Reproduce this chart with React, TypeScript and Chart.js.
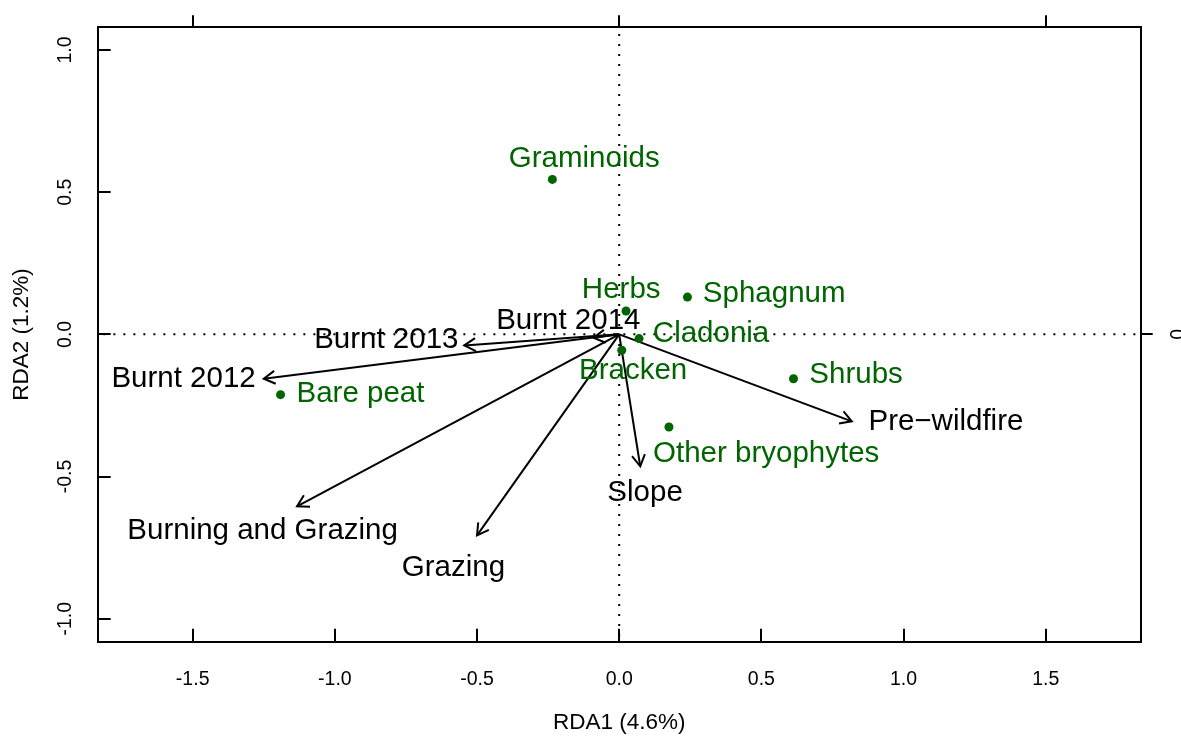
import React, { useEffect, useRef } from "react";
import { Chart, registerables } from "chart.js";

Chart.register(...registerables);

// ---- data ----
const xTicks = [-1.5, -1.0, -0.5, 0.0, 0.5, 1.0, 1.5];
const yTicks = [-1.0, -0.5, 0.0, 0.5, 1.0];
const topTicks = [-1.5, 0.0, 1.5];
const rightTicks = [0];
const xLimits = [-1.834, 1.834];
const yLimits = [-1.081, 1.08];
const xTitle = "RDA1 (4.6%)";
const yTitle = "RDA2 (1.2%)";

const speciesNames = ["Graminoids", "Herbs", "Sphagnum", "Cladonia", "Bracken", "Shrubs", "Other bryophytes", "Bare peat"];
const speciesX = [-0.235, 0.024, 0.24, 0.07, 0.009, 0.613, 0.175, -1.191];
const speciesY = [0.545, 0.082, 0.131, -0.015, -0.056, -0.156, -0.326, -0.212];
const speciesLabelX = [-0.123, 0.007, 0.545, 0.323, 0.049, 0.833, 0.517, -0.91];
const speciesLabelY = [0.619, 0.155, 0.144, 0.0, -0.127, -0.144, -0.419, -0.211];

const envNames = ["Burnt 2012", "Burnt 2013", "Burnt 2014", "Burning and Grazing", "Grazing", "Slope", "Pre\u2212wildfire"];
const envX = [-1.25, -0.545, -0.09, -1.133, -0.5, 0.074, 0.818];
const envY = [-0.156, -0.039, -0.012, -0.605, -0.707, -0.464, -0.306];
const envLabelX = [-1.532, -0.819, -0.179, -1.254, -0.583, 0.091, 1.149];
const envLabelY = [-0.155, -0.021, 0.049, -0.69, -0.821, -0.559, -0.308];

// ---- layout / style ----
const W = 1181;
const H = 736;
const PLOT_LEFT = 97.7;
const PLOT_RIGHT = 1140.7;
const PLOT_TOP = 27.3;
const PLOT_BOTTOM = 641.7;
const FONT = "'Liberation Sans', Arial, Helvetica, sans-serif";
const GREEN = "#006400";

const fmtTick = (v: number) => (v < 0 ? "-" : "") + Math.abs(v).toFixed(1);

const overlayPlugin = {
  id: "biplotOverlay",
  afterDatasetsDraw(chart: any) {
    const { ctx } = chart;
    const xs = chart.scales.x;
    const ys = chart.scales.y;
    ctx.save();
    // arrow heads
    ctx.strokeStyle = "#000";
    ctx.lineWidth = 2;
    ctx.lineCap = "butt";
    ctx.lineJoin = "miter";
    const x0 = xs.getPixelForValue(0);
    const y0 = ys.getPixelForValue(0);
    envX.forEach((vx, i) => {
      const x1 = xs.getPixelForValue(vx);
      const y1 = ys.getPixelForValue(envY[i]);
      const ang = Math.atan2(y1 - y0, x1 - x0);
      const L = 13;
      const a = Math.PI / 6;
      ctx.beginPath();
      ctx.moveTo(x1 - L * Math.cos(ang - a), y1 - L * Math.sin(ang - a));
      ctx.lineTo(x1, y1);
      ctx.lineTo(x1 - L * Math.cos(ang + a), y1 - L * Math.sin(ang + a));
      ctx.stroke();
    });
    // labels
    ctx.font = `29.5px ${FONT}`;
    ctx.textAlign = "center";
    ctx.textBaseline = "middle";
    ctx.fillStyle = GREEN;
    speciesNames.forEach((n, i) => {
      ctx.fillText(n, xs.getPixelForValue(speciesLabelX[i]), ys.getPixelForValue(speciesLabelY[i]));
    });
    ctx.fillStyle = "#000";
    envNames.forEach((n, i) => {
      ctx.fillText(n, xs.getPixelForValue(envLabelX[i]), ys.getPixelForValue(envLabelY[i]));
    });
    ctx.restore();
  },
};

export default function App() {
  const ref = useRef<HTMLCanvasElement | null>(null);

  useEffect(() => {
    if (!ref.current) return;
    const dotted = {
      borderColor: "#000",
      borderWidth: 2,
      borderDash: [2, 8],
      pointRadius: 0,
      showLine: true,
      fill: false,
    };
    const datasets: any[] = [
      { ...dotted, data: [{ x: xLimits[0] - 1, y: 0 }, { x: xLimits[1] + 1, y: 0 }] },
      { ...dotted, data: [{ x: 0, y: yLimits[0] - 1 }, { x: 0, y: yLimits[1] + 1 }] },
      {
        data: speciesX.map((v, i) => ({ x: v, y: speciesY[i] })),
        pointRadius: 4.5,
        pointBackgroundColor: GREEN,
        pointBorderWidth: 0,
        borderColor: GREEN,
        showLine: false,
      },
      ...envX.map((v, i) => ({
        data: [{ x: 0, y: 0 }, { x: v, y: envY[i] }],
        borderColor: "#000",
        borderWidth: 2,
        pointRadius: 0,
        showLine: true,
        fill: false,
      })),
    ];

    const tickFont = { family: FONT, size: 19.5 };
    const titleFont = { family: FONT, size: 22.5 };
    const noPad = (s: any) => {
      s.paddingTop = 0;
      s.paddingBottom = 0;
      s.paddingLeft = 0;
      s.paddingRight = 0;
    };

    const chart = new Chart(ref.current, {
      type: "scatter",
      data: { datasets },
      plugins: [overlayPlugin],
      options: {
        animation: false,
        responsive: false,
        maintainAspectRatio: false,
        devicePixelRatio: 1,
        layout: { padding: 0 },
        plugins: { legend: { display: false }, tooltip: { enabled: false } },
        events: [],
        scales: {
          x: {
            type: "linear",
            position: "bottom",
            min: xLimits[0],
            max: xLimits[1],
            afterBuildTicks: (s: any) => { s.ticks = xTicks.map((v) => ({ value: v })); },
            afterFit: (s: any) => { s.height = H - PLOT_BOTTOM; noPad(s); },
            ticks: { font: tickFont, color: "#000", padding: 39, autoSkip: false, maxRotation: 0, minRotation: 0, callback: (v: any) => fmtTick(Number(v)) },
            grid: { drawOnChartArea: false, drawTicks: true, tickLength: -13, color: "#000", lineWidth: 2 },
            border: { display: true, color: "#000", width: 2 },
            title: { display: true, text: xTitle, font: titleFont, color: "#000", padding: { top: 0, bottom: 0 } },
          },
          x2: {
            type: "linear",
            axis: "x",
            position: "top",
            min: xLimits[0],
            max: xLimits[1],
            afterBuildTicks: (s: any) => { s.ticks = topTicks.map((v) => ({ value: v })); },
            afterFit: (s: any) => { s.height = PLOT_TOP; noPad(s); },
            ticks: { display: false },
            grid: { drawOnChartArea: false, drawTicks: true, tickLength: 12, color: "#000", lineWidth: 2 },
            border: { display: true, color: "#000", width: 2 },
          },
          y: {
            type: "linear",
            position: "left",
            min: yLimits[0],
            max: yLimits[1],
            afterBuildTicks: (s: any) => { s.ticks = yTicks.map((v) => ({ value: v })); },
            afterFit: (s: any) => { s.width = PLOT_LEFT; noPad(s); },
            ticks: { font: tickFont, color: "#000", padding: 28, autoSkip: false, minRotation: 90, maxRotation: 90, crossAlign: "center", callback: (v: any) => fmtTick(Number(v)) },
            grid: { drawOnChartArea: false, drawTicks: true, tickLength: -13, color: "#000", lineWidth: 2 },
            border: { display: true, color: "#000", width: 2 },
            title: { display: true, text: yTitle, font: titleFont, color: "#000", padding: { top: 8, bottom: 0 } },
          },
          y2: {
            type: "linear",
            axis: "y",
            position: "right",
            min: yLimits[0],
            max: yLimits[1],
            afterBuildTicks: (s: any) => { s.ticks = rightTicks.map((v) => ({ value: v })); },
            afterFit: (s: any) => { s.width = W - PLOT_RIGHT; noPad(s); },
            ticks: { font: tickFont, color: "#000", padding: 21, autoSkip: false, minRotation: 90, maxRotation: 90, crossAlign: "center", callback: (v: any) => String(v) },
            grid: { drawOnChartArea: false, drawTicks: true, tickLength: 12, color: "#000", lineWidth: 2 },
            border: { display: true, color: "#000", width: 2 },
          },
        },
      } as any,
    });
    return () => chart.destroy();
  }, []);

  return (
    <div style={{ position: "absolute", left: 0, top: 0, width: W, height: H, background: "#fff", overflow: "hidden" }}>
      <canvas ref={ref} width={W} height={H} style={{ display: "block" }} />
    </div>
  );
}
